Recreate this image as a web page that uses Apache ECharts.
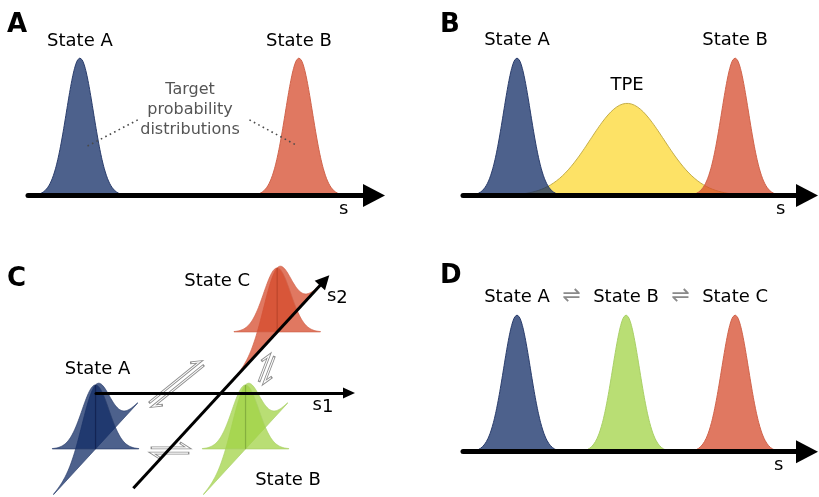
<!DOCTYPE html>
<html>
<head>
<meta charset="utf-8">
<script src="https://cdn.jsdelivr.net/npm/echarts@6/dist/echarts.min.js"></script>
<style>
  html, body { margin: 0; padding: 0; background: #ffffff; }
  #chart { width: 819px; height: 497px; }
</style>
</head>
<body>
<div id="chart"></div>
<script>
// ---- Panel A: two target distributions along one coordinate s ----
const panelANames = ['State A', 'State B'];
const panelACenters = [15.0, 78.3];
const panelAWidths = [3.9, 3.9];
const panelAPeaks = [1, 1];

// ---- Panel B: the two end states and the transition path ensemble ----
const panelBNames = ['TPE', 'State A', 'State B'];
const panelBCenters = [47.7, 15.7, 79.1];
const panelBWidths = [10.7, 3.9, 3.9];
const panelBPeaks = [0.67, 1, 1];

// ---- Panel C: three states in the (s1, s2) plane ----
const panelCNames = ['State C', 'State A', 'State B'];
const panelCS1 = [0, -74, 76];
const panelCS2 = [83, -76, -76];
const panelCPeaks = [64, 64, 64];
const panelCWidthS1 = [13.5, 13.5, 13.5];
const panelCWidthS2 = [20, 20, 20];
const s2AxisRange = [-129.5, 153];

// ---- Panel D: three states along s ----
const panelDNames = ['State A', 'State B', 'State C'];
const panelDCenters = [15.7, 47.4, 79.1];
const panelDWidths = [3.9, 3.9, 3.9];
const panelDPeaks = [1, 1, 1];

const FONT = 'DejaVu Sans';
const TEXT = '#000000';

const palette = {
  blue:   { fill: 'rgba(17,44,101,0.75)',  edge: '#2a3d6c', core: 'rgba(15,30,75,0.75)' },
  red:    { fill: 'rgba(214,75,44,0.75)',  edge: '#d0634b', core: 'rgba(170,60,35,0.6)' },
  green:  { fill: 'rgba(162,211,70,0.75)', edge: '#a9d067', core: 'rgba(110,150,50,0.6)' },
  yellow: { fill: 'rgba(252,216,51,0.75)', edge: '#c4ad48', core: null }
};
const colorOf = { 'State A': palette.blue, 'State B': palette.red, 'State C': palette.red, 'TPE': palette.yellow };

// normal density profile, scaled to its peak height
function profile(mu, sigma, peak, span, steps) {
  const pts = [];
  for (let i = 0; i <= steps; i++) {
    const s = mu + sigma * span * (2 * i / steps - 1);
    const z = (s - mu) / sigma;
    pts.push([s, peak * Math.exp(-0.5 * z * z)]);
  }
  return pts;
}

function curve(grid, name, mu, sigma, peak, col, z, labelDy) {
  return {
    type: 'line', name: name, xAxisIndex: grid, yAxisIndex: grid,
    data: profile(mu, sigma, peak, 3.2, 160),
    showSymbol: false, symbol: 'none', clip: false, z: z, silent: true,
    lineStyle: { color: col.edge, width: 1 },
    areaStyle: { color: col.fill, opacity: 1 },
    markPoint: {
      symbol: 'circle', symbolSize: 0, silent: true, animation: false,
      data: [{ name: name, coord: [mu, peak] }],
      label: { show: true, position: 'inside', offset: [0, labelDy], formatter: '{b}',
               color: TEXT, fontSize: 18, fontFamily: FONT }
    }
  };
}

function sAxis(grid, gap, padTop) {
  return {
    type: 'value', gridIndex: grid, min: 0, max: 100,
    axisLine: { show: true, onZero: false, symbol: ['none', 'triangle'], symbolSize: [23, 22],
                lineStyle: { color: '#000', width: 5 } },
    axisTick: { show: false }, axisLabel: { show: false }, splitLine: { show: false },
    name: 's', nameLocation: 'end', nameGap: gap,
    nameTextStyle: { fontSize: 18, fontFamily: FONT, color: TEXT, verticalAlign: 'top', align: 'left', padding: [padTop, 0, 0, 0] },
    z: 10
  };
}
function hiddenY(grid, min, max) {
  return { type: 'value', gridIndex: grid, min: min, max: max, show: false, splitLine: { show: false } };
}

const series = [];

// Panel A
panelANames.forEach(function (n, i) {
  series.push(curve(0, n, panelACenters[i], panelAWidths[i], panelAPeaks[i], colorOf[n], 2, -17));
});
// leader lines from the caption into both distributions
series[0].markLine = {
  silent: true, symbol: 'none', animation: false, label: { show: false },
  lineStyle: { color: '#4a4a4a', width: 1.6, type: [1.6, 3.4] },
  data: [
    [{ coord: [panelACenters[0] + 2.2, 0.36] }, { coord: [panelACenters[0] + 17.5, 0.56] }],
    [{ coord: [panelACenters[1] - 14.3, 0.55] }, { coord: [panelACenters[1] - 0.3, 0.36] }]
  ]
};

// Panel B
panelBNames.forEach(function (n, i) {
  series.push(curve(1, n, panelBCenters[i], panelBWidths[i], panelBPeaks[i], colorOf[n], i === 0 ? 2 : 3, n === 'TPE' ? -18.5 : -17.5));
});

// Panel D
const colorD = [palette.blue, palette.green, palette.red];
panelDNames.forEach(function (n, i) {
  series.push(curve(3, n, panelDCenters[i], panelDWidths[i], panelDPeaks[i], colorD[i], 2, -18));
});
// equilibrium signs between neighbouring states
const eqMarks = [];
for (let i = 0; i < panelDCenters.length - 1; i++) {
  eqMarks.push([(panelDCenters[i] + panelDCenters[i + 1]) / 2, 1]);
}
series.push({
  type: 'scatter', xAxisIndex: 3, yAxisIndex: 3, symbolSize: 0, silent: true, clip: false,
  itemStyle: { opacity: 1 },
  data: eqMarks,
  label: { show: true, position: 'inside', offset: [0, -18.5], formatter: '\u21CC',
           color: '#8a8a8a', fontSize: 22, fontFamily: FONT }
});

// Panel C: oblique view, s2 runs up and to the right
const S2_DIR = [0.677, 0.736];
function projC(s1, s2, h) { return [s1 + s2 * S2_DIR[0], s2 * S2_DIR[1] + h]; }

const colorC = { 'State A': palette.blue, 'State B': palette.green, 'State C': palette.red };
const cShapes = [];
panelCNames.forEach(function (n, i) {
  const col = colorC[n];
  const a = panelCS1[i], b = panelCS2[i], p = panelCPeaks[i];
  const sd = panelCWidthS2[i], sh = panelCWidthS1[i];
  const along2 = profile(0, sd, p, 3.1, 120).map(function (q) { return projC(a, b + q[0], q[1]); });
  along2.push(projC(a, b + sd * 3.1, 0), projC(a, b - sd * 3.1, 0));
  const along1 = profile(0, sh, p, 3.2, 120).map(function (q) { return projC(a + q[0], b, q[1]); });
  along1.push(projC(a + sh * 3.2, b, 0), projC(a - sh * 3.2, b, 0));
  cShapes.push({ kind: 'area', points: along2, fill: col.fill, stroke: col.edge });
  cShapes.push({ kind: 'area', points: along1, fill: col.fill, stroke: col.edge });
  cShapes.push({ kind: 'stem', points: [projC(a, b, 0), projC(a, b, p)], stroke: col.core });
});

series.push({
  type: 'custom', xAxisIndex: 2, yAxisIndex: 2, z: 2, silent: true, clip: false,
  data: cShapes.map(function (s, i) { return [i]; }),
  renderItem: function (params, api) {
    const shp = cShapes[params.dataIndex];
    const pts = shp.points.map(function (q) { return api.coord(q); });
    if (shp.kind === 'stem') {
      return { type: 'polyline', shape: { points: pts }, style: { stroke: shp.stroke, lineWidth: 1.2, fill: null } };
    }
    return { type: 'polygon', shape: { points: pts }, style: { fill: shp.fill, stroke: shp.stroke, lineWidth: 0.7 } };
  }
});

// s2 axis
series.push({
  type: 'lines', coordinateSystem: 'cartesian2d', xAxisIndex: 2, yAxisIndex: 2, z: 8, silent: true,
  symbol: ['none', 'triangle'], symbolSize: [12, 14],
  lineStyle: { color: '#000', width: 3, opacity: 1, curveness: 0 },
  data: [{ coords: [projC(0, s2AxisRange[0], 0), projC(0, s2AxisRange[1], 0)] }]
});

// state names and axis names in panel C
const subRich = {
  v: { fontSize: 18, fontFamily: FONT, color: TEXT, lineHeight: 18, verticalAlign: 'top' },
  i: { fontSize: 18, fontFamily: FONT, color: TEXT, lineHeight: 18, padding: [5, 0, 0, 0] }
};
const cLabelOffsets = { 'State C': [-60, -51], 'State A': [2, -80], 'State B': [42.5, 31] };
const cLabels = panelCNames.map(function (n, i) {
  return { value: projC(panelCS1[i], panelCS2[i], 0), label: { formatter: n, offset: cLabelOffsets[n] } };
});
cLabels.push({ value: projC(0, s2AxisRange[1] + 7, 0), label: { formatter: '{v|s}{i|2}', offset: [8, 21] } });
cLabels.push({ value: [134, 0], label: { formatter: '{v|s}{i|1}', offset: [-32, 12] } });
series.push({
  type: 'scatter', xAxisIndex: 2, yAxisIndex: 2, symbolSize: 0, silent: true, clip: false, z: 9,
  itemStyle: { opacity: 1 },
  data: cLabels,
  label: { show: true, position: 'inside', color: TEXT, fontSize: 18, fontFamily: FONT, rich: subRich }
});

// hollow double harpoons (equilibrium arrows) for panel C
function harpoon(cx, cy, len, deg) {
  const h = len / 2, g = 2.6, bx = 7, by = 4.5;
  const top = [[-h, -g], [h, -g], [h - bx, -g - by]];
  const bot = [[h, g], [-h, g], [-h + bx, g + by]];
  const outline = { stroke: '#8e8e8e', lineWidth: 2.8, fill: null, lineJoin: 'miter', lineCap: 'square' };
  const inner = { stroke: '#ffffff', lineWidth: 1.1, fill: null, lineJoin: 'miter', lineCap: 'butt' };
  return {
    type: 'group', x: cx, y: cy, rotation: deg * Math.PI / 180, z: 1, silent: true,
    children: [
      { type: 'polyline', shape: { points: top }, style: outline },
      { type: 'polyline', shape: { points: bot }, style: outline },
      { type: 'polyline', shape: { points: top }, style: inner },
      { type: 'polyline', shape: { points: bot }, style: inner }
    ]
  };
}

const option = {
  animation: false,
  backgroundColor: '#ffffff',
  title: [
    { text: 'A', left: 7, top: 12 },
    { text: 'B', left: 440, top: 12 },
    { text: 'C', left: 7, top: 266 },
    { text: 'D', left: 440, top: 263 }
  ].map(function (t) {
    t.padding = 0;
    t.textStyle = { fontSize: 26, fontWeight: 'bold', fontFamily: FONT, color: '#000' };
    return t;
  }),
  grid: [
    { left: 28, top: 58, width: 346, height: 137.5 },
    { left: 463, top: 58, width: 344, height: 137.5 },
    { left: 96, top: 250, width: 253, height: 247 },
    { left: 463, top: 315, width: 344, height: 136.7 }
  ],
  xAxis: [
    sAxis(0, -35, 5),
    sAxis(1, -31, 5),
    {
      type: 'value', gridIndex: 2, min: -125, max: 128,
      axisLine: { show: true, onZero: true, symbol: ['none', 'triangle'], symbolSize: [11, 12],
                  lineStyle: { color: '#000', width: 3 } },
      axisTick: { show: false }, axisLabel: { show: false }, splitLine: { show: false }, z: 10
    },
    sAxis(3, -33, 5)
  ],
  yAxis: [hiddenY(0, 0, 1), hiddenY(1, 0, 1), hiddenY(2, -104, 143), hiddenY(3, 0, 1)],
  graphic: [
    {
      type: 'text', x: 190, y: 110, z: 5, silent: true,
      style: { text: 'Target\nprobability\ndistributions', align: 'center', verticalAlign: 'middle',
               lineHeight: 20, fill: '#555555', font: '16px "DejaVu Sans"' }
    },
    harpoon(170, 450.5, 36, 0),
    harpoon(176.5, 384, 64, 39),
    harpoon(266.7, 369, 27, 69)
  ],
  series: series
};

const chart = echarts.init(document.getElementById('chart'));
chart.setOption(option);
</script>
</body>
</html>
